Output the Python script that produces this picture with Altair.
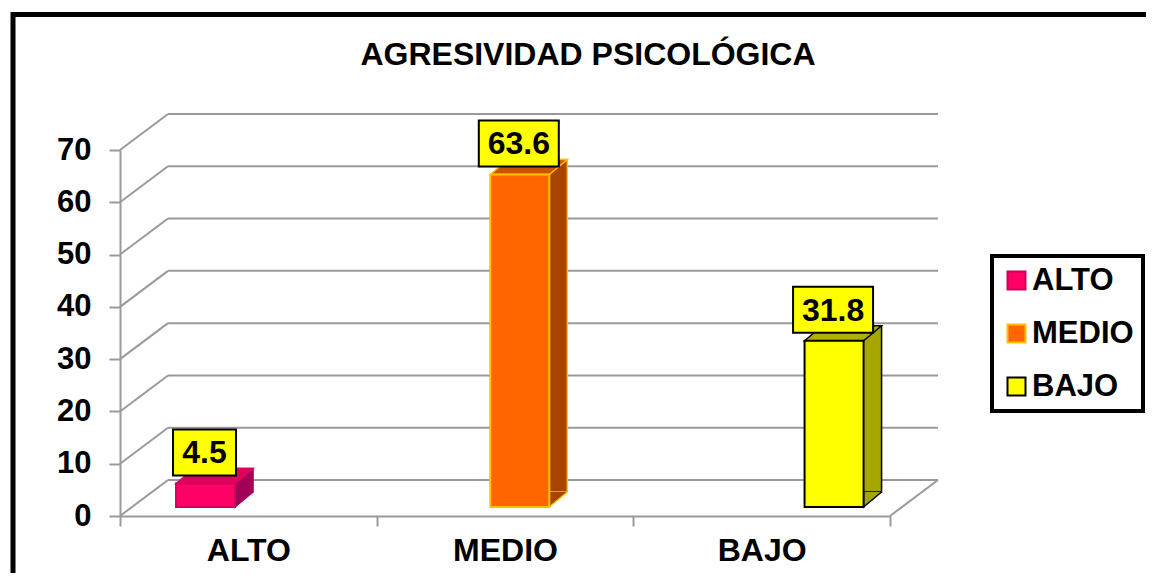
import altair as alt
import pandas as pd

# ---------------- data ----------------
categories = ["ALTO", "MEDIO", "BAJO"]
values = [4.5, 63.6, 31.8]
value_labels = ["4.5", "63.6", "31.8"]
y_ticks = [0, 10, 20, 30, 40, 50, 60, 70]
title_text = "AGRESIVIDAD PSICOLÓGICA"

# ---------------- style ----------------
FRONT = ["#FF0066", "#FF6600", "#FFFF00"]
TOP = ["#E0005C", "#CC5200", "#B0B000"]
SIDE = ["#A3005A", "#A84400", "#A6A600"]
EDGE = ["#D1005A", "#FFC000", "#000000"]
FONT = "Liberation Sans"
GREY = "#9A9A9A"

W, H = 770, 366
DX, DY = 48, -36      # depth of the back wall
BX, BY = 18, -15      # depth of each bar
BASE = -9             # bars sit a little behind the front plane
BW = 59               # bar width
HB = BW / 2

bars_df = pd.DataFrame({"cat": categories, "value": values, "label": value_labels})
grid_df = pd.DataFrame({"v": y_ticks})
one_df = pd.DataFrame({"k": [0]})

yscale = alt.Scale(domain=[0, 70], nice=False)
yaxis = alt.Axis(values=y_ticks, title=None, grid=False, labelFont=FONT, labelFontSize=31,
                 labelFontWeight="bold", labelColor="black", labelPadding=18, tickSize=11,
                 tickColor=GREY, tickWidth=2, domainColor=GREY, domainWidth=2)

bar_x = alt.X("cat:N", sort=categories,
              scale=alt.Scale(type="band", domain=categories, range=[-71.6, 871.2],
                              paddingInner=0, paddingOuter=0),
              axis=None)
ybar = alt.Y("value:Q", scale=yscale, axis=yaxis)
ygrid = alt.Y("v:Q", scale=yscale, axis=yaxis)


def by_category(options):
    """Per-category constant (no scale, no legend)."""
    return {
        "condition": [
            {"test": "datum.cat === '%s'" % categories[0], "value": options[0]},
            {"test": "datum.cat === '%s'" % categories[1], "value": options[1]},
        ],
        "value": options[2],
    }


# outer frame
frame = alt.Chart(one_df).mark_rect(filled=False, stroke="black", strokeWidth=5).encode(
    x=alt.value(-107), x2=alt.value(1300), y=alt.value(-135.5), y2=alt.value(700)
)

# left wall diagonals
diag = alt.Chart(grid_df).mark_rule(color=GREY, strokeWidth=2, x2Offset=DX, y2Offset=DY).encode(
    x=alt.value(0), x2=alt.value(0), y=ygrid, y2=alt.Y2("v")
)

# back wall gridlines
back = alt.Chart(grid_df).mark_rule(color=GREY, strokeWidth=2, xOffset=DX, x2Offset=DX,
                                    yOffset=DY).encode(
    x=alt.value(0), x2=alt.value(W), y=ygrid
)

# right floor edge
floor_edge = alt.Chart(grid_df).transform_filter("datum.v == 0").mark_rule(
    color=GREY, strokeWidth=2, x2Offset=DX, y2Offset=DY).encode(
    x=alt.value(W), x2=alt.value(W), y=ygrid, y2=alt.Y2("v")
)

# x axis carrier
xaxis_layer = alt.Chart(bars_df).mark_point(opacity=0).encode(
    x=alt.X("cat:N", sort=categories,
            scale=alt.Scale(type="band", domain=categories, paddingInner=0, paddingOuter=0),
            axis=alt.Axis(title=None, labelAngle=0, labelFont=FONT, labelFontSize=32,
                          labelFontWeight="bold", labelColor="black", labelPadding=9,
                          tickBand="extent", tickSize=10, tickColor=GREY, tickWidth=2,
                          domainColor=GREY, domainWidth=2)),
    y=ybar
)

# side face of each bar (shifted box behind the front face)
side = alt.Chart(bars_df).mark_bar(size=BW, xOffset=BX, yOffset=BASE + BY, y2Offset=BASE + BY,
                                   strokeWidth=1.5).encode(
    x=bar_x, y=ybar,
    fill=by_category(SIDE),
    stroke=by_category([SIDE[0], EDGE[1], EDGE[2]])
)

# lower corner of the side face (unit-pixel symbol paths: size 4 -> 1 unit = 1 px)
foot_path = "M%g,%g L%g,0 L%g,%g" % (HB, BY, HB, HB + BX, BY)
foot = alt.Chart(bars_df).transform_calculate(zero="0").mark_point(
    filled=True, size=4, opacity=1, strokeWidth=1.5, shape=foot_path, yOffset=BASE).encode(
    x=bar_x, y=alt.Y("zero:Q", scale=yscale, axis=yaxis),
    fill=by_category(SIDE),
    stroke=by_category([SIDE[0], EDGE[1], EDGE[2]])
)

# top face of each bar
top_path = "M%g,0 L%g,%g L%g,%g L%g,0 Z" % (-HB, -HB + BX, BY, HB + BX, BY, HB)
top = alt.Chart(bars_df).mark_point(
    filled=True, size=4, opacity=1, strokeWidth=1.5, shape=top_path, yOffset=BASE).encode(
    x=bar_x, y=ybar,
    fill=by_category(TOP),
    stroke=by_category([TOP[0], EDGE[1], EDGE[2]])
)

legend_def = alt.Legend(title=None, orient="none", legendX=872, legendY=106,
                        symbolType="square", symbolSize=324, symbolStrokeWidth=2,
                        labelFont=FONT, labelFontSize=31, labelFontWeight="bold",
                        labelColor="black", labelOffset=0, rowPadding=21,
                        padding=9, strokeColor="black", fillColor="white")

front = alt.Chart(bars_df).mark_bar(size=BW, yOffset=BASE, y2Offset=BASE, strokeWidth=2).encode(
    x=bar_x, y=ybar,
    fill=alt.Fill("cat:N", scale=alt.Scale(domain=categories, range=FRONT), legend=legend_def),
    stroke=alt.Stroke("cat:N", scale=alt.Scale(domain=categories, range=EDGE), legend=legend_def)
)

narrow = "M-0.7875,-0.575 L0.7875,-0.575 L0.7875,0.575 L-0.7875,0.575 Z"
wide = "M-1,-0.575 L1,-0.575 L1,0.575 L-1,0.575 Z"

boxes = alt.Chart(bars_df).mark_point(filled=True, fill="#FFFF00", stroke="black", strokeWidth=2,
                                      size=6400, opacity=1, yOffset=BASE - 31, xOffset=-1).encode(
    x=bar_x, y=ybar,
    shape=by_category([narrow, wide, wide])
)

texts = alt.Chart(bars_df).mark_text(font=FONT, fontSize=32, fontWeight="bold", color="black",
                                     baseline="middle", yOffset=BASE - 30, xOffset=-1).encode(
    x=bar_x, y=ybar, text="label:N"
)

chart = alt.layer(frame, back, diag, floor_edge, xaxis_layer, side, foot, top, front,
                  boxes, texts).resolve_scale(
    x="independent"
).properties(
    width=W, height=H,
    autosize=alt.AutoSizeParams(type="none"),
    padding={"left": 112, "top": 142, "right": 256, "bottom": 57},
    title=alt.TitleParams(title_text, font=FONT, fontSize=32, fontWeight="bold", color="black",
                          anchor="middle", dx=83, offset=-60),
    background="white"
).configure_view(strokeWidth=0).configure_legend(strokeWidth=4)

chart.save("out.html", embed_options={"renderer": "svg", "actions": False})
